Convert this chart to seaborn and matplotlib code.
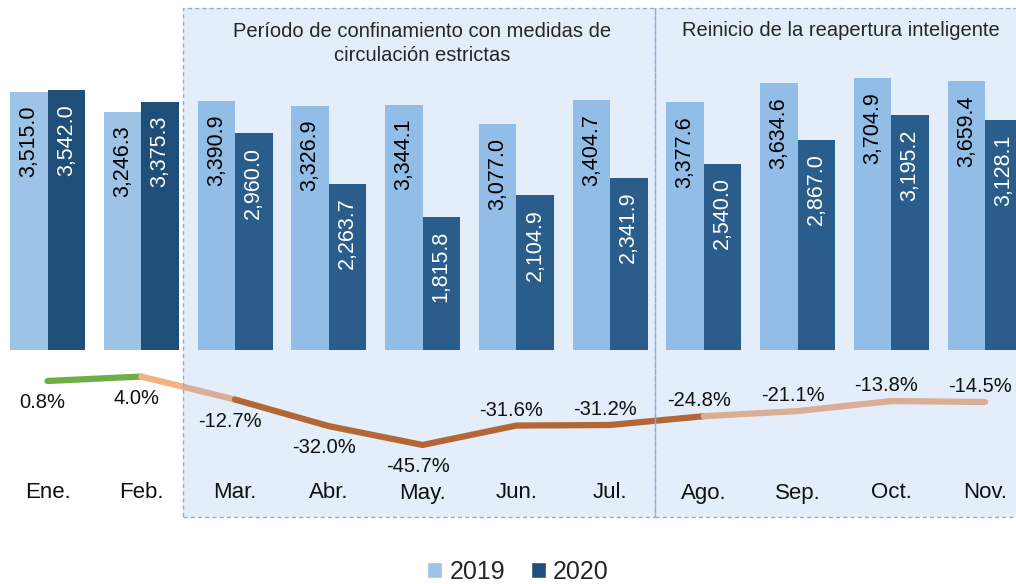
import pandas as pd
import matplotlib.pyplot as plt
import matplotlib.transforms as mtransforms
from matplotlib.patches import Rectangle, Patch
import seaborn as sns

# Daten
meses = ['Ene.', 'Feb.', 'Mar.', 'Abr.', 'May.', 'Jun.', 'Jul.', 'Ago.', 'Sep.', 'Oct.', 'Nov.']
valores_2019 = [3515.0, 3246.3, 3390.9, 3326.9, 3344.1, 3077.0, 3404.7, 3377.6, 3634.6, 3704.9, 3659.4]
valores_2020 = [3542.0, 3375.3, 2960.0, 2263.7, 1815.8, 2104.9, 2341.9, 2540.0, 2867.0, 3195.2, 3128.1]
variacion = [0.8, 4.0, -12.7, -32.0, -45.7, -31.6, -31.2, -24.8, -21.1, -13.8, -14.5]
anios = ['2019', '2020']

df = pd.DataFrame({
    'mes': meses * 2,
    'anio': [anios[0]] * len(meses) + [anios[1]] * len(meses),
    'valor': valores_2019 + valores_2020,
})

sns.set_style('white')
plt.rcParams['font.family'] = ['Liberation Sans', 'DejaVu Sans']

C19, C20 = '#9DC3E6', '#1F4E79'
VERDE, DURAZNO, CAFE = '#70AD47', '#F4B183', '#C55A11'
TINTE, BORDE = '#64A4E6', '#8FAADC'
H = 584.0

fig = plt.figure(figsize=(10.16, 5.84), dpi=100)
ax1 = fig.add_axes([0, 1 - 350 / H, 1, 342 / H])
ax2 = fig.add_axes([0, 1 - 470 / H, 1, 120 / H])
xlim = (-0.507, 10.33)

# ---- Barras ----
sns.barplot(data=df, x='mes', y='valor', hue='anio', palette={'2019': C19, '2020': C20},
            saturation=1, linewidth=0, ax=ax1, legend=False)
ax1.set_xlim(*xlim)
ax1.set_ylim(0, 4659)
ax1.set_xticks([])
ax1.set_yticks([])
ax1.set_xlabel('')
ax1.set_ylabel('')

for cont, col in zip(ax1.containers, ['black', 'white']):
    for p in cont.patches:
        v = p.get_height()
        ax1.annotate(f'{v:,.1f}', (p.get_x() + p.get_width() / 2, v), xytext=(0, -10),
                     textcoords='offset points', rotation=90, ha='center', va='top',
                     fontsize=15.5, color=col, zorder=4)

# ---- Linea de variacion ----
x = list(range(len(meses)))
tramos = [(0, 1, VERDE), (1, 2, DURAZNO), (2, 7, CAFE), (7, 10, DURAZNO)]
for a, b, col in tramos:
    sns.lineplot(x=x[a:b + 1], y=variacion[a:b + 1], color=col, linewidth=4.5,
                 solid_capstyle='round', ax=ax2)
ax2.set_xlim(*xlim)
ax2.set_ylim(-63.9, 23.3)
for i, v in enumerate(variacion):
    dy = -15.5 if i < 5 else 11
    ax2.annotate(f'{v:.1f}%', (i, v), xytext=(-3.5, dy), textcoords='offset points',
                 ha='center', va='center', fontsize=14.5, color='#111111', zorder=4)
ax2.set_xticks(x)
ax2.set_xticklabels(meses, fontsize=16, color='#111111')
ax2.tick_params(axis='x', length=0, pad=9)
ax2.set_yticks([])

for ax in (ax1, ax2):
    for s in ax.spines.values():
        s.set_visible(False)

# ---- Zonas sombreadas ----
zonas = [(1.445, 6.48), (6.48, 10.8)]
blend_fig = mtransforms.blended_transform_factory(ax1.transData, fig.transFigure)
for x0, x1 in zonas:
    fig.add_artist(Rectangle((x0, 1 - 517 / H), x1 - x0, 509 / H, transform=blend_fig,
                             facecolor=TINTE, alpha=0.18, edgecolor='none', zorder=-1))
    fig.add_artist(Rectangle((x0, 1 - 517 / H), x1 - x0, 509 / H, transform=blend_fig,
                             fill=False, edgecolor=BORDE, linewidth=1,
                             linestyle=(0, (3, 2.2)), zorder=5))
    for ax in (ax1, ax2):
        bl = mtransforms.blended_transform_factory(ax.transData, ax.transAxes)
        ax.add_patch(Rectangle((x0, 0), x1 - x0, 1, transform=bl, facecolor=TINTE,
                               alpha=0.18, edgecolor='none', zorder=3))

ax1.text(4.0, 1 - 43.5 / H, 'Período de confinamiento con medidas de\ncirculación estrictas',
         transform=blend_fig, ha='center', va='center', fontsize=14.5, linespacing=1.3)
ax1.text(8.46, 1 - 30 / H, 'Reinicio de la reapertura inteligente',
         transform=blend_fig, ha='center', va='center', fontsize=14.5)

# ---- Leyenda ----
handles = [Patch(facecolor=C19, label='2019'), Patch(facecolor=C20, label='2020')]
fig.legend(handles=handles, loc='center', bbox_to_anchor=(0.51, 1 - 572 / H), ncol=2,
           frameon=False, fontsize=18, handlelength=0.6, handleheight=0.6,
           handletextpad=0.3, columnspacing=1.0)

fig.savefig('out.png', dpi=100)
